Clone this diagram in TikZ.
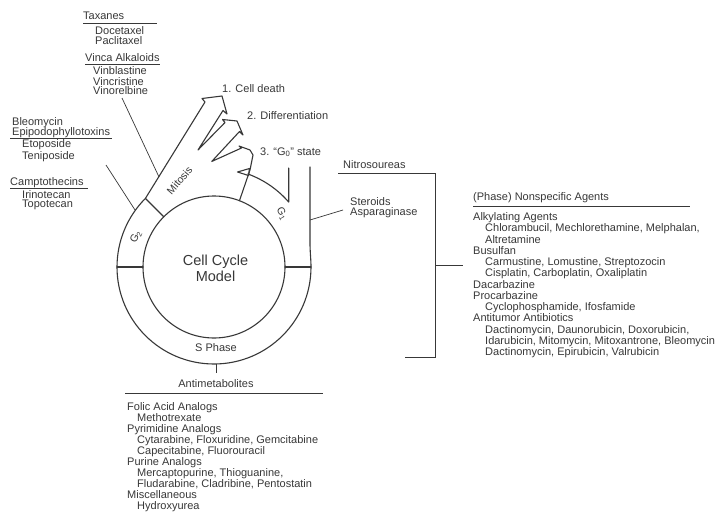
\documentclass[tikz,border=0pt]{standalone}
\usepackage{fontspec}
\setmainfont{Liberation Sans}
\usetikzlibrary{calc}
\definecolor{ink}{gray}{0.22}
\newcommand\myindA{\hspace*{12pt}}
\newcommand\myindB{\hspace*{10pt}}
\begin{document}
\begin{tikzpicture}[x=1pt,y=-1pt,
  ring/.style={draw=ink, line width=1.1pt, line join=round, line cap=round},
  ptr/.style={draw=ink, line width=0.7pt},
  lbl/.style={font=\fontsize{11}{11}\selectfont, text=ink, inner sep=0pt},
  lb/.style={lbl, anchor=base west}]
\useasboundingbox (0,0) rectangle (721,519);
\fill[white] (0,0) rectangle (721,519);
\coordinate (C) at (214,267);
\coordinate (o135) at ($(C)+(225:97)$);
\coordinate (i135) at ($(C)+(225:71)$);
\coordinate (i69) at ($(C)+(-69:71)$);
\coordinate (g1s) at ($(C)+(-70:99)$);
% inner circle
\draw[ring] (C) circle[radius=71];
% outer ring with mitosis fingers
\draw[ring] (310,167) -- (310,243) .. controls (310,252) and (311,259) .. (311,267)
  arc[start angle=0, end angle=225, radius=97]
  -- (205,102) -- (202,98.5) -- (222,96) -- (227,114) -- (223,110.5) -- (198,150)
  -- (225,122.5) -- (222.5,119.5) -- (237,121) -- (243,135) -- (239.5,131.5) -- (211.7,161.5)
  -- (241.5,148) -- (239,146) -- (250,150) -- (253,155) -- (250,170) -- (i69);
% G1 outer wall
\draw[ring] (g1s) arc[start angle=-70, end angle=-41, radius=99] -- ++(0,-34);
\draw[ring] (237.5,172) -- (249.5,168.5) -- (248.5,175.5) -- cycle;
% dividers
\draw[ring] (i135) -- (o135);
\draw[ring] (117,267) -- (143,267);
\draw[ring] (285,267) -- (311,267);
% phase labels
\node[lbl, font=\fontsize{14.5}{16.5}\selectfont, align=center] (ccm) at (215.5,268.5) {Cell Cycle\\Model};
\node[lbl] (sph) at (216,348) {S Phase};
\node[lbl, font=\fontsize{10.5}{11}\selectfont, rotate=49] (mit) at (179.5,180.5) {Mitosis};
\node[lbl, font=\fontsize{10.5}{11}\selectfont, rotate=65] (g2) at (136,237) {G\textsubscript{2}};
\node[lbl, font=\fontsize{10.5}{11}\selectfont, rotate=-62] (g1) at (282,214) {G\textsubscript{1}};
% outcomes
\node[lb] (out1) at (222,93) {1. Cell death};
\node[lb] (out2) at (247,120) {2. Differentiation};
\node[lb] (out3) at (260,155) {3. “G\textsubscript{0}” state};
% left top block
\node[lb] (tax) at (83,20) {Taxanes};
\draw[ptr] (83,23) -- (157,23);
\node[lb] (doc) at (95,35) {Docetaxel};
\node[lb] (pac) at (95,45) {Paclitaxel};
\node[lb] (vin) at (85,61.5) {Vinca Alkaloids};
\draw[ptr] (85,64.5) -- (160,64.5);
\node[lb] (vbl) at (93,75) {Vinblastine};
\node[lb] (vcr) at (93,85) {Vincristine};
\node[lb] (vnr) at (93,95) {Vinorelbine};
\draw[ptr] (122,98) -- (159,177);
% left middle block
\node[lb] (bleo) at (12,125) {Bleomycin};
\node[lb] (epi) at (12,135.5) {Epipodophyllotoxins};
\draw[ptr] (10,138.5) -- (112,138.5);
\node[lb] (eto) at (22,147.5) {Etoposide};
\node[lb] (ten) at (22,159) {Teniposide};
\node[lb] (cam) at (10,185) {Camptothecins};
\draw[ptr] (10,188.5) -- (88,188.5);
\node[lb] (iri) at (22,198) {Irinotecan};
\node[lb] (top) at (22,207.5) {Topotecan};
\draw[ptr] (106,165) -- (135,210);
% middle labels
\node[lb] (nit) at (343,168) {Nitrosoureas};
\node[lb] (ste) at (350,205) {Steroids};
\node[lb] (asp) at (350,215) {Asparaginase};
\draw[ptr] (310,220) -- (343,210);
\draw[ptr] (338,173) -- (435,173) -- (435,357) -- (405,357);
\draw[ptr] (435,265) -- (463,265);
% right block
\node[lb] (nsa) at (473,200) {(Phase) Nonspecific Agents};
\draw[ptr] (473,206) -- (690,206);
\foreach \t [count=\i from 0] in {Alkylating Agents,
  {\myindA Chlorambucil, Mechlorethamine, Melphalan,},
  {\myindA Altretamine},
  Busulfan,
  {\myindA Carmustine, Lomustine, Streptozocin},
  {\myindA Cisplatin, Carboplatin, Oxaliplatin},
  Dacarbazine,
  Procarbazine,
  {\myindA Cyclophosphamide, Ifosfamide},
  Antitumor Antibiotics,
  {\myindA Dactinomycin, Daunorubicin, Doxorubicin,},
  {\myindA Idarubicin, Mitomycin, Mitoxantrone, Bleomycin},
  {\myindA Dactinomycin, Epirubicin, Valrubicin}}
  \node[lb] (nsa\i) at (473,{220.5+11.25*\i}) {\t};
% bottom block
\draw[ptr] (216,363.5) -- (216,373);
\node[lbl, anchor=base] (ame) at (216,387) {Antimetabolites};
\draw[ptr] (125,393) -- (323,393);
\foreach \t [count=\i from 0] in {Folic Acid Analogs,
  {\myindB Methotrexate},
  Pyrimidine Analogs,
  {\myindB Cytarabine, Floxuridine, Gemcitabine},
  {\myindB Capecitabine, Fluorouracil},
  Purine Analogs,
  {\myindB Mercaptopurine, Thioguanine,},
  {\myindB Fludarabine, Cladribine, Pentostatin},
  Miscellaneous,
  {\myindB Hydroxyurea}}
  \node[lb] (am\i) at (127,{410+11.1*\i}) {\t};
\end{tikzpicture}
\end{document}
